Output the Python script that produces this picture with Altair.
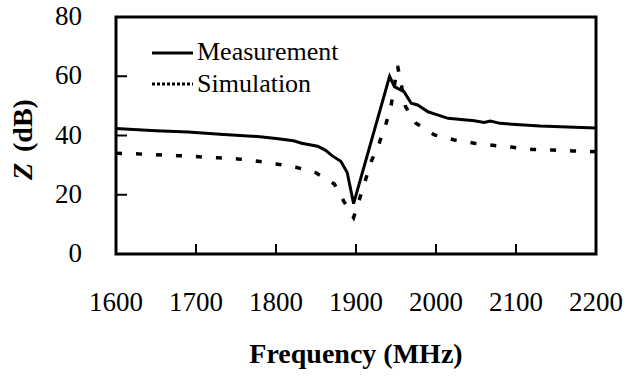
import altair as alt
import pandas as pd

# Data
meas_f = [1600, 1622, 1650, 1690, 1730, 1780, 1800, 1822, 1832, 1852, 1862, 1870, 1881, 1889, 1897,
          1942, 1948, 1960, 1969, 1977, 1990, 1998, 2015, 2048, 2060, 2068, 2080, 2130, 2173, 2200]
meas_z = [42.4, 42.0, 41.6, 41.2, 40.4, 39.6, 39.0, 38.2, 37.4, 36.4, 35.0, 33.2, 31.3, 27.5, 17.0,
          60.0, 56.5, 54.8, 50.9, 50.3, 48.0, 47.3, 45.8, 45.0, 44.4, 44.9, 44.1, 43.2, 42.8, 42.5]

sim_f = [1600, 1625, 1677, 1727, 1752, 1775, 1800, 1825, 1850, 1873, 1885, 1897, 1904, 1919, 1929,
         1937, 1944, 1952, 1962, 1975, 1998, 2023, 2048, 2073, 2096, 2121, 2146, 2171, 2200]
sim_z = [34.0, 33.8, 33.2, 32.5, 32.1, 31.4, 30.4, 29.3, 27.4, 23.6, 17.7, 12.3, 18.2, 31.2, 37.4,
         43.5, 50.3, 63.5, 49.7, 44.1, 40.2, 38.5, 37.4, 36.6, 36.0, 35.3, 35.1, 34.8, 34.5]

x_ticks = [1600, 1700, 1800, 1900, 2000, 2100, 2200]
y_ticks = [0, 20, 40, 60, 80]
x_inner = [1700, 1800, 1900, 2000, 2100]
y_inner = [20, 40, 60]
leg_names = ["Measurement", "Simulation"]

FONT = "Liberation Serif"
W, H = 480, 237

meas = pd.DataFrame({"f": meas_f, "z": meas_z})
sim = pd.DataFrame({"f": sim_f, "z": sim_z})

xs = alt.Scale(domain=[1600, 2200], nice=False, zero=False)
ys = alt.Scale(domain=[0, 80], nice=False)

one = pd.DataFrame({"a": [0]})

line_m = alt.Chart(meas).mark_line(color="black", strokeWidth=3).encode(
    x=alt.X("f:Q", scale=xs, axis=None), y=alt.Y("z:Q", scale=ys, axis=None))
line_s = alt.Chart(sim).mark_line(color="black", strokeWidth=3.5, strokeDash=[6, 14]).encode(
    x=alt.X("f:Q", scale=xs, axis=None), y=alt.Y("z:Q", scale=ys, axis=None))

frame = alt.Chart(one).mark_rect(fill=None, stroke="black", strokeWidth=3).encode(
    x=alt.value(0), x2=alt.value(W), y=alt.value(0), y2=alt.value(H))

# invisible corner anchors so the padded layout puts the plot at (116, 17) in a 626x376 page
anchor_tl = alt.Chart(one).mark_rect(opacity=0).encode(
    x=alt.value(-116), x2=alt.value(-115), y=alt.value(-17), y2=alt.value(-16))
anchor_br = alt.Chart(one).mark_rect(opacity=0).encode(
    x=alt.value(509), x2=alt.value(510), y=alt.value(358), y2=alt.value(359))

xt = alt.Chart(pd.DataFrame({"f": x_inner})).mark_rule(color="black", strokeWidth=2).encode(
    x=alt.X("f:Q", scale=xs, axis=None), y=alt.value(H), y2=alt.value(H - 10))
yt = alt.Chart(pd.DataFrame({"z": y_inner})).mark_rule(color="black", strokeWidth=2).encode(
    y=alt.Y("z:Q", scale=ys, axis=None), x=alt.value(0), x2=alt.value(11))

xl = alt.Chart(pd.DataFrame({"f": x_ticks, "t": [str(v) for v in x_ticks]})).mark_text(
    font=FONT, fontSize=27, align="center", baseline="top", color="black").encode(
    x=alt.X("f:Q", scale=xs, axis=None), y=alt.value(H + 36), text="t:N")
yl = alt.Chart(pd.DataFrame({"z": y_ticks, "t": [str(v) for v in y_ticks]})).mark_text(
    font=FONT, fontSize=27, align="right", baseline="middle", color="black").encode(
    y=alt.Y("z:Q", scale=ys, axis=None), x=alt.value(-34), text="t:N")

leg_m = alt.Chart(one).mark_rule(color="black", strokeWidth=3).encode(
    x=alt.value(36), x2=alt.value(77), y=alt.value(36))
leg_s = alt.Chart(one).mark_rule(color="black", strokeWidth=3, strokeDash=[3, 2]).encode(
    x=alt.value(36), x2=alt.value(77), y=alt.value(67))
leg_t1 = alt.Chart(pd.DataFrame({"t": [leg_names[0]]})).mark_text(
    font=FONT, fontSize=26, align="left", baseline="alphabetic", color="black").encode(
    text="t:N", x=alt.value(81), y=alt.value(43))
leg_t2 = alt.Chart(pd.DataFrame({"t": [leg_names[1]]})).mark_text(
    font=FONT, fontSize=26, align="left", baseline="alphabetic", color="black").encode(
    text="t:N", x=alt.value(81), y=alt.value(75))

xtitle = alt.Chart(pd.DataFrame({"t": ["Frequency (MHz)"]})).mark_text(
    font=FONT, fontSize=28, fontWeight="bold", align="center", baseline="alphabetic", color="black").encode(
    text="t:N", x=alt.value(W / 2), y=alt.value(346))
ytitle_z = alt.Chart(pd.DataFrame({"t": ["Z"]})).mark_text(
    font=FONT, fontSize=28, fontWeight="bold", fontStyle="italic", angle=270, align="left",
    baseline="middle", color="black").encode(
    text="t:N", x=alt.value(-92), y=alt.value(163))
ytitle_r = alt.Chart(pd.DataFrame({"t": ["(dB)"]})).mark_text(
    font=FONT, fontSize=28, fontWeight="bold", angle=270, align="left",
    baseline="middle", color="black").encode(
    text="t:N", x=alt.value(-92), y=alt.value(135))

chart = alt.layer(leg_t1, leg_t2, xl, yl, xtitle, ytitle_z, ytitle_r,
                  line_m, line_s, frame, xt, yt, leg_m, leg_s, anchor_tl, anchor_br).properties(
    width=W, height=H,
    padding=0,
).configure_view(strokeWidth=0)

chart.save("out.html", embed_options={"renderer": "svg", "actions": False})
